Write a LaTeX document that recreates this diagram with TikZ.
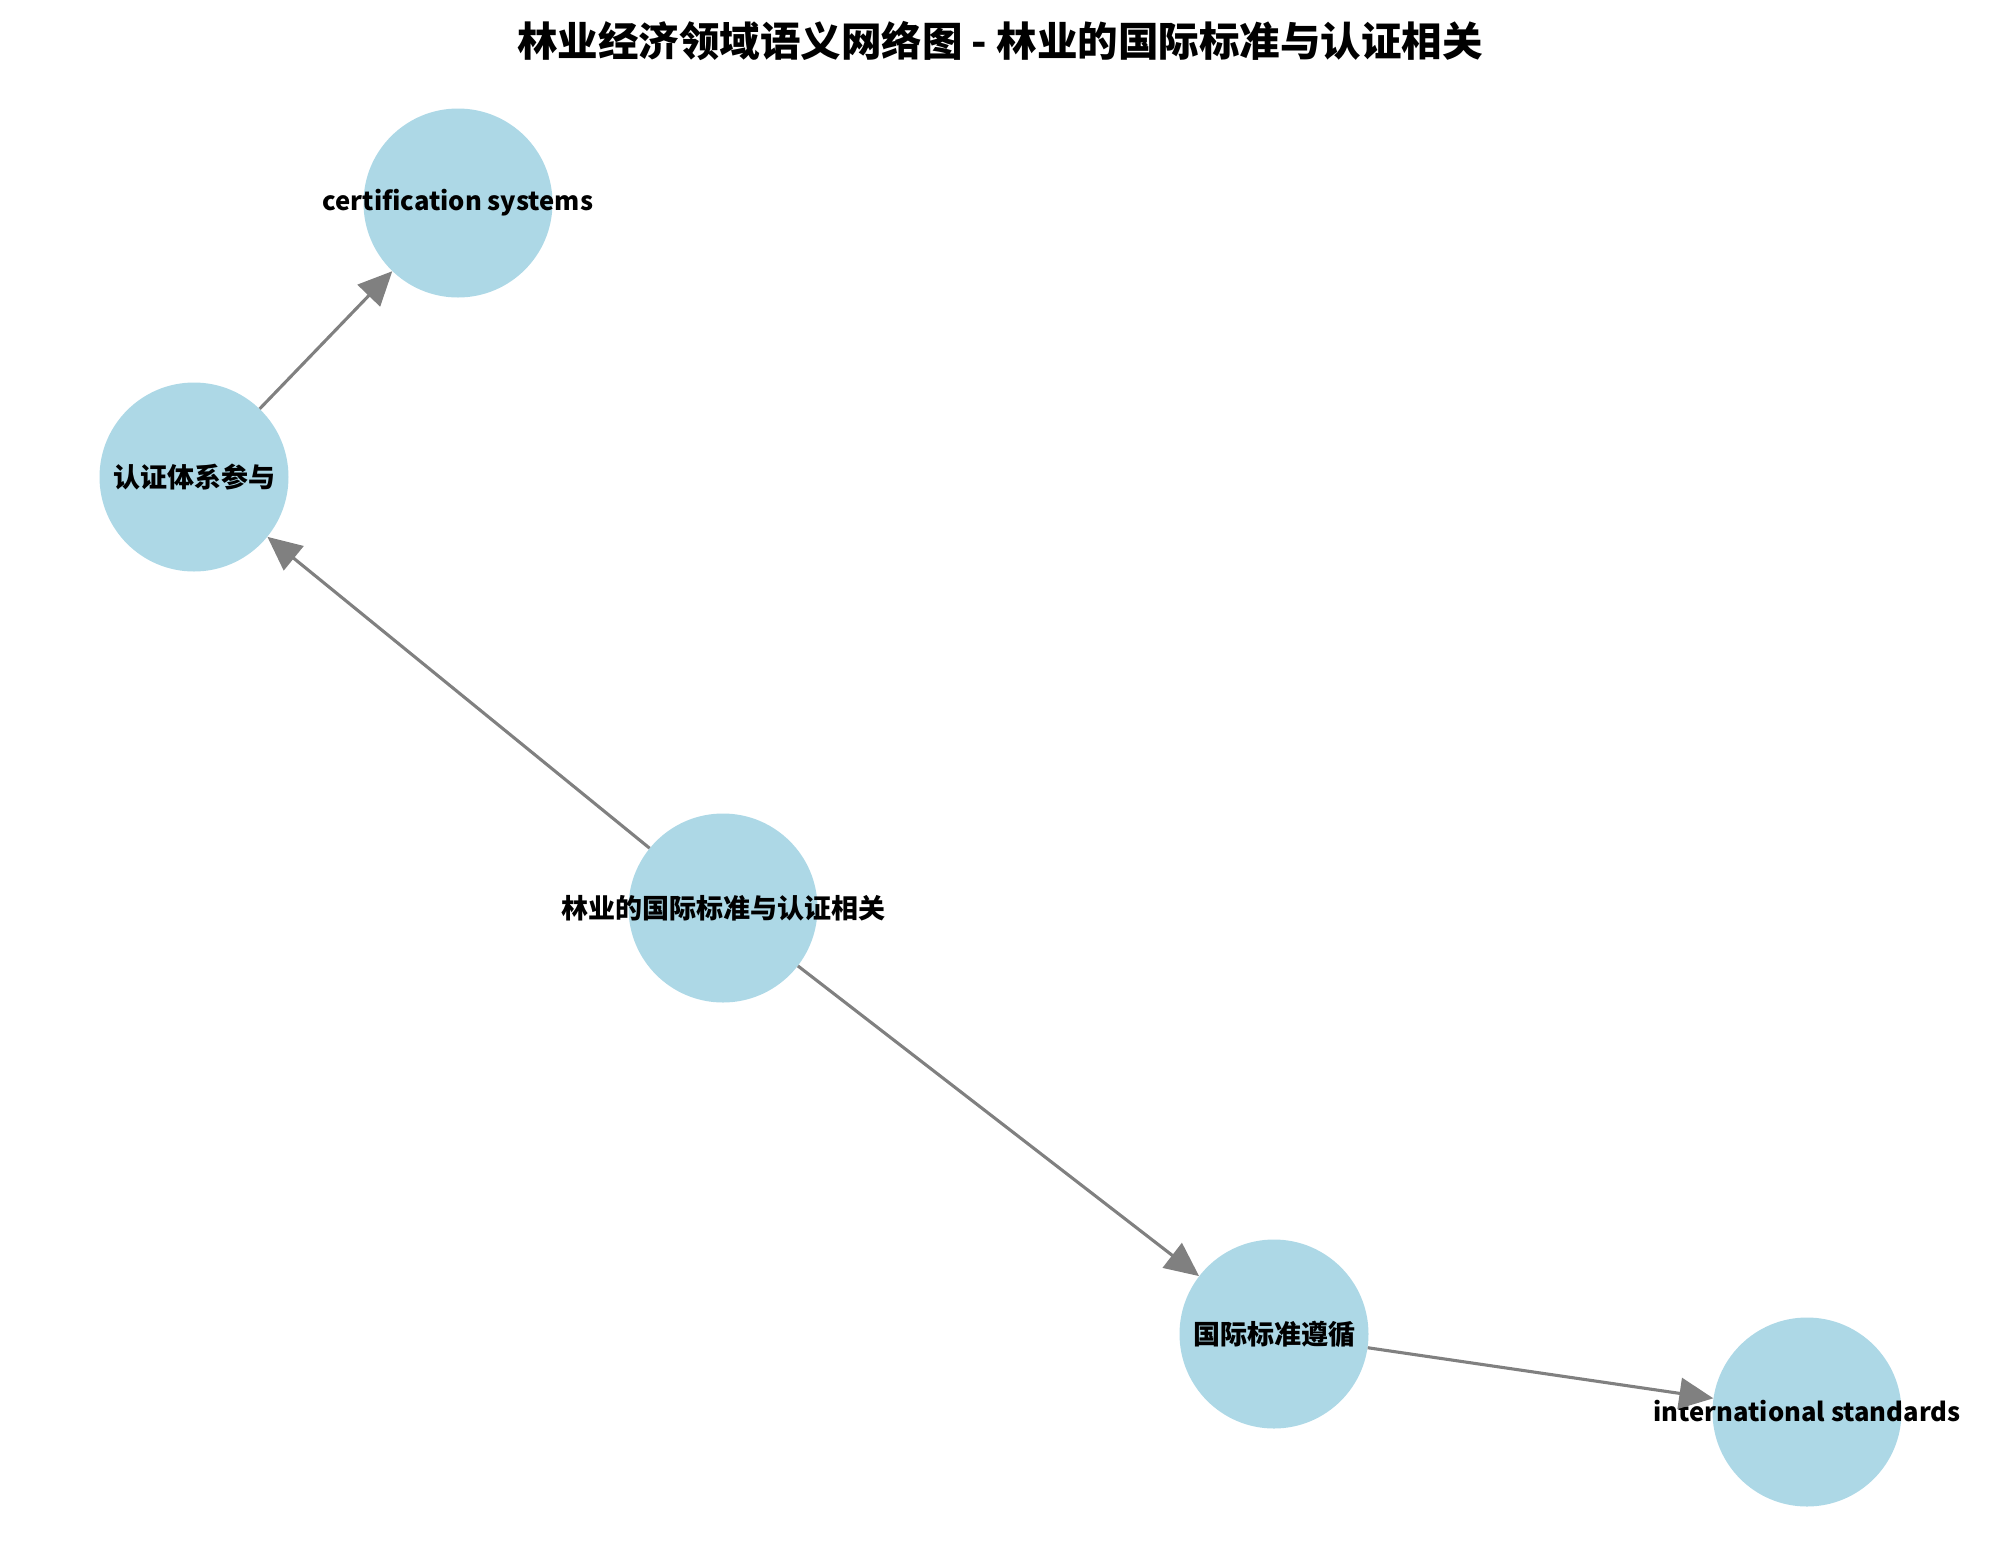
\documentclass[tikz,border=0pt]{standalone}
\usepackage{fontspec}
\setmainfont{Noto Sans CJK SC}
\usetikzlibrary{arrows.meta}
\definecolor{nodeblue}{HTML}{ADD8E6}
\definecolor{edgegray}{HTML}{808080}
\tikzset{
  vert/.style={circle, fill=nodeblue, minimum size=189pt, inner sep=0pt,
    font=\fontsize{27}{31}\selectfont\bfseries},
  latin/.style={font=\fontsize{25.6}{31}\selectfont\bfseries},
  link/.style={draw=edgegray, line width=3.1pt,
    -{Triangle[length=34pt,width=31pt]}},
}
\newcommand{\lbl}[1]{\makebox[0pt]{\raisebox{3pt}{#1}}}
\begin{document}
\begin{tikzpicture}[x=1pt,y=-1pt]
\useasboundingbox (0,0) rectangle (2000,1564);
\node[font=\fontsize{40.5}{46}\selectfont\bfseries] (title) at (1000,41) {林业经济领域语义网络图 - 林业的国际标准与认证相关};
\node[vert, latin] (cs) at (458,203) {\lbl{certification systems}};
\node[vert] (rz) at (194,477) {\lbl{认证体系参与}};
\node[vert] (ct) at (723,908) {\lbl{林业的国际标准与认证相关}};
\node[vert] (gj) at (1274,1334) {\lbl{国际标准遵循}};
\node[vert, latin] (is) at (1807,1412) {\lbl{international standards}};
\draw[link] (ct) -- (rz);
\draw[link] (rz) -- (cs);
\draw[link] (ct) -- (gj);
\draw[link] (gj) -- (is);
\end{tikzpicture}
\end{document}
